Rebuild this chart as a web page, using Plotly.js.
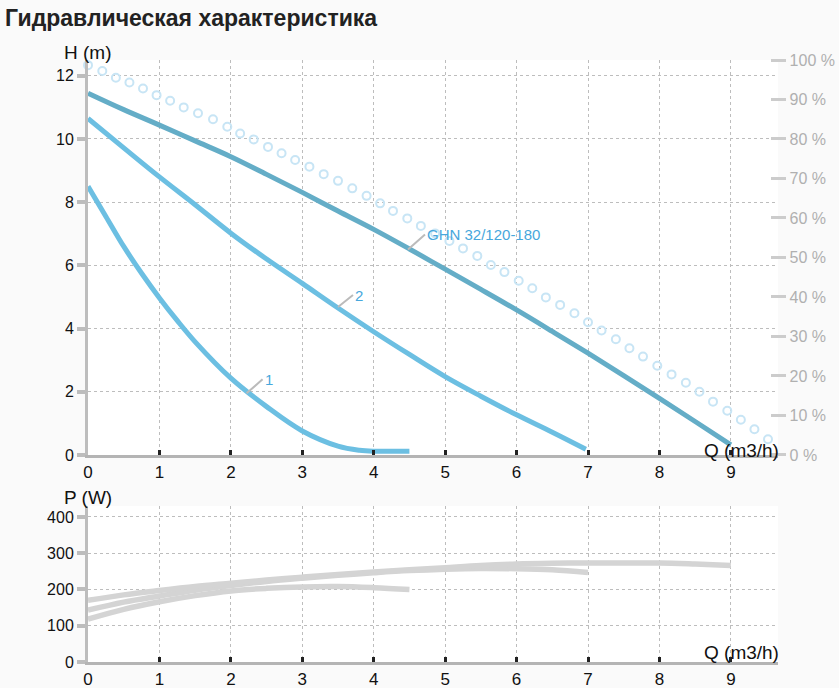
<!DOCTYPE html>
<html>
<head>
<meta charset="utf-8">
<script src="https://cdn.plot.ly/plotly-3.0.1.min.js"></script>
<style>
  html, body { margin: 0; padding: 0; background: #fafafa; }
  #chart { width: 839px; height: 688px; }
</style>
</head>
<body>
<div id="chart"></div>
<script>
// ---- head curves H(Q) ----
var qMax = [0, 0.5, 1, 1.5, 2, 2.5, 3, 3.5, 4, 4.5, 5, 5.5, 6, 6.5, 7, 7.5, 8, 8.5, 9];
var hMax = [11.45, 10.93, 10.44, 9.94, 9.44, 8.88, 8.31, 7.72, 7.14, 6.52, 5.88, 5.24, 4.59, 3.91, 3.22, 2.51, 1.79, 1.06, 0.32];

var q2 = [0, 0.5, 1, 1.5, 2, 2.5, 3, 3.5, 4, 4.5, 5, 5.5, 6, 6.5, 6.97];
var h2 = [10.65, 9.72, 8.8, 7.92, 7.02, 6.2, 5.43, 4.65, 3.9, 3.18, 2.48, 1.86, 1.27, 0.72, 0.18];

var q1 = [0, 0.25, 0.5, 0.75, 1, 1.25, 1.5, 2, 2.5, 3, 3.5, 3.8, 4, 4.5];
var h1 = [8.5, 7.55, 6.6, 5.75, 4.97, 4.25, 3.58, 2.43, 1.53, 0.76, 0.28, 0.15, 0.12, 0.12];

// ---- efficiency markers (right axis, %) ----
var qEff = [0, 0.2, 0.39, 0.58, 0.77, 0.96, 1.15, 1.34, 1.54, 1.75, 1.95, 2.13, 2.32, 2.52, 2.71, 2.9, 3.1,
            3.3, 3.5, 3.7, 3.9, 4.09, 4.27, 4.47, 4.66, 4.86, 5.06, 5.25, 5.45, 5.64, 5.83, 6.03, 6.22, 6.41,
            6.61, 6.81, 7.0, 7.19, 7.39, 7.58, 7.77, 7.97, 8.17, 8.37, 8.56, 8.75, 8.95, 9.14, 9.33, 9.52, 9.73];
var effPct = [98.7, 97.2, 95.5, 94.3, 92.8, 91.1, 89.7, 88.0, 86.5, 85.0, 83.1, 81.4, 79.9, 78.0, 76.4, 74.7, 73.0,
              71.1, 69.4, 67.5, 65.6, 63.7, 61.8, 59.9, 58.0, 56.1, 54.2, 52.3, 50.4, 48.1, 46.3, 44.1, 42.2, 39.9,
              38.0, 35.9, 33.6, 31.5, 29.3, 27.0, 24.9, 22.6, 20.4, 18.3, 16.0, 13.5, 11.2, 8.9, 6.5, 4.0, 1.7];

// ---- power curves P(Q) ----
var pq1 = [0, 0.5, 1, 1.5, 2, 2.5, 3, 3.5, 4, 4.5];
var p1 = [118, 145, 166, 183, 196, 203, 207, 208, 205, 200];

var pq2 = [0, 0.5, 1, 1.5, 2, 2.5, 3, 3.5, 4, 4.5, 5, 5.5, 6, 6.5, 7];
var p2 = [143, 165, 182, 198, 211, 222, 231, 239, 246, 252, 256, 258, 257, 254, 247];

var pqMax = [0, 0.5, 1, 1.5, 2, 2.5, 3, 3.5, 4, 4.5, 5, 5.5, 6, 6.5, 7, 7.5, 8, 8.5, 9];
var pMax = [170, 185, 197, 208, 217, 226, 234, 241, 248, 254, 260, 266, 270, 272, 273, 273, 273, 270, 266];

var xTicks = [0, 1, 2, 3, 4, 5, 6, 7, 8, 9];

var FONT = 'Liberation Sans, Arial, sans-serif';
var headBlue = '#6cbfe2';
var headTeal = '#64adc7';
var labelBlue = '#47a7dc';
var powerGrey = '#d4d4d4';

var data = [
  {x: qEff, y: effPct, yaxis: 'y2', mode: 'markers', cliponaxis: false,
   marker: {symbol: 'circle-open', size: 8, color: '#c8e5f5', line: {width: 2, color: '#c8e5f5'}}},
  {x: qMax, y: hMax, mode: 'lines', line: {color: headTeal, width: 5, shape: 'spline'}},
  {x: q2, y: h2, mode: 'lines', line: {color: headBlue, width: 5, shape: 'spline'}},
  {x: q1, y: h1, mode: 'lines', line: {color: headBlue, width: 5, shape: 'spline'}},
  {x: pq1, y: p1, xaxis: 'x2', yaxis: 'y3', mode: 'lines', line: {color: powerGrey, width: 5.5, shape: 'spline'}},
  {x: pq2, y: p2, xaxis: 'x2', yaxis: 'y3', mode: 'lines', line: {color: powerGrey, width: 5.5, shape: 'spline'}},
  {x: pqMax, y: pMax, xaxis: 'x2', yaxis: 'y3', mode: 'lines', line: {color: powerGrey, width: 5.5, shape: 'spline'}}
];

var xRange = [0, 9.66];
var topDom = [0.3439, 1];
var botDom = [0, 0.2591];

// main x axes carry the inner half of the tick, labels sit close to the line
function xAx(anchor) {
  return {
    domain: [0, 1], anchor: anchor, range: xRange, tickvals: xTicks,
    showgrid: true, gridcolor: '#bdbdbd', griddash: 'dot', gridwidth: 1,
    zeroline: false, showline: true, linecolor: '#b4b4b4', linewidth: 3,
    ticks: 'inside', ticklen: 5, tickwidth: 3, tickcolor: '#222',
    tickfont: {size: 17, color: '#111', family: FONT}
  };
}
function yAx(anchor, dom, range, dtick) {
  return {
    domain: dom, anchor: anchor, range: range, dtick: dtick, tick0: 0,
    showgrid: true, gridcolor: '#bdbdbd', griddash: 'dot', gridwidth: 1,
    zeroline: false, showline: true, linecolor: '#bdbdbd', linewidth: 3,
    ticks: 'outside', ticklen: 8, tickwidth: 4, tickcolor: '#bdbdbd',
    tickfont: {size: 16, color: '#111', family: FONT}
  };
}
// overlay axes giving the other half of the crossing tick marks
function xOut(over, anchor) {
  return {overlaying: over, anchor: anchor, range: xRange, tickvals: xTicks, showgrid: false,
          zeroline: false, showline: false, showticklabels: false,
          ticks: 'outside', ticklen: 5, tickwidth: 3, tickcolor: '#222'};
}
function yIn(over, anchor, range, dtick) {
  return {overlaying: over, anchor: anchor, side: 'left', range: range, dtick: dtick, tick0: 0,
          showgrid: false, zeroline: false, showline: false, showticklabels: false,
          ticks: 'inside', ticklen: 8, tickwidth: 4, tickcolor: '#bdbdbd'};
}

var layout = {
  width: 839, height: 688,
  margin: {l: 88, r: 61, t: 60, b: 26},
  paper_bgcolor: '#fafafa',
  plot_bgcolor: '#ffffff',
  showlegend: false,
  font: {family: FONT, color: '#111'},
  title: {
    text: '<b>Гидравлическая характеристика</b>',
    x: 0.006, xanchor: 'left', y: 0.974, yanchor: 'middle',
    font: {size: 23, color: '#222', family: FONT}
  },
  xaxis: xAx('y'),
  yaxis: yAx('x', topDom, [0, 12.5], 2),
  yaxis2: {
    overlaying: 'y', side: 'right', anchor: 'free', position: 0.989, range: [0, 100], dtick: 10, tick0: 0,
    ticksuffix: ' %', showgrid: false, showline: false, zeroline: false,
    ticks: 'outside', ticklen: 15, tickwidth: 3, tickcolor: '#cccccc',
    tickfont: {size: 16, color: '#b0b0b0', family: FONT}
  },
  xaxis2: xAx('y3'),
  yaxis3: yAx('x2', botDom, [0, 430], 100),
  xaxis3: xOut('x', 'y'),
  xaxis4: xOut('x2', 'y3'),
  yaxis4: yIn('y', 'x', [0, 12.5], 2),
  yaxis5: yIn('y3', 'x2', [0, 430], 100),
  annotations: [
    {text: 'H (m)', xref: 'paper', yref: 'paper', x: -0.038, y: 1.013, xanchor: 'left', yanchor: 'middle',
     showarrow: false, font: {size: 19, color: '#111'}},
    {text: 'Q (m3/h)', xref: 'paper', yref: 'paper', x: 0.89, y: 0.352, xanchor: 'left', yanchor: 'middle',
     showarrow: false, font: {size: 19, color: '#111'}},
    {text: 'P (W)', xref: 'paper', yref: 'paper', x: -0.038, y: 0.274, xanchor: 'left', yanchor: 'middle',
     showarrow: false, font: {size: 19, color: '#111'}},
    {text: 'Q (m3/h)', xref: 'paper', yref: 'paper', x: 0.89, y: 0.0166, xanchor: 'left', yanchor: 'middle',
     showarrow: false, font: {size: 19, color: '#111'}},
    {text: '1', xref: 'x', yref: 'y', x: 2.22, y: 1.95, ax: 16, ay: -14, xanchor: 'left', yanchor: 'middle',
     showarrow: true, arrowhead: 0, arrowwidth: 2, arrowcolor: '#bbbbbb', font: {size: 15, color: labelBlue}},
    {text: '2', xref: 'x', yref: 'y', x: 3.5, y: 4.68, ax: 15, ay: -12, xanchor: 'left', yanchor: 'middle',
     showarrow: true, arrowhead: 0, arrowwidth: 2, arrowcolor: '#bbbbbb', font: {size: 15, color: labelBlue}},
    {text: 'GHN 32/120-180', xref: 'x', yref: 'y', x: 4.48, y: 6.5, ax: 17, ay: -15, xanchor: 'left', yanchor: 'middle',
     showarrow: true, arrowhead: 0, arrowwidth: 2, arrowcolor: '#bbbbbb', font: {size: 15, color: labelBlue}}
  ]
};

Plotly.newPlot('chart', data, layout, {displayModeBar: false, staticPlot: true});
</script>
</body>
</html>
